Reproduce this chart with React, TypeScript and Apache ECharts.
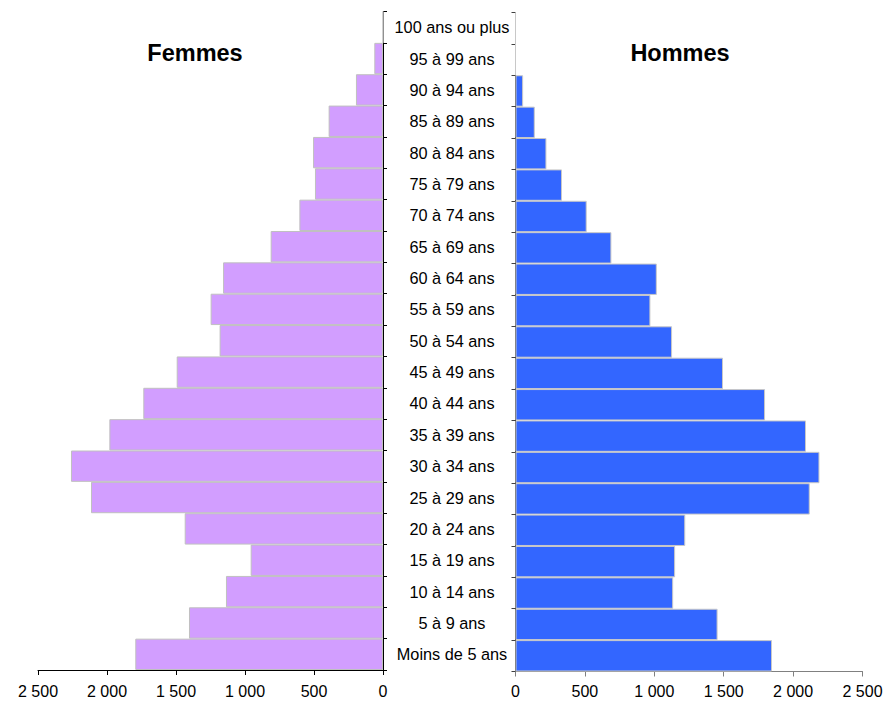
import React, { useEffect, useRef } from "react";
import * as echarts from "echarts";

const ageGroups = [
  "Moins de 5 ans", "5 à 9 ans", "10 à 14 ans", "15 à 19 ans", "20 à 24 ans",
  "25 à 29 ans", "30 à 34 ans", "35 à 39 ans", "40 à 44 ans", "45 à 49 ans",
  "50 à 54 ans", "55 à 59 ans", "60 à 64 ans", "65 à 69 ans", "70 à 74 ans",
  "75 à 79 ans", "80 à 84 ans", "85 à 89 ans", "90 à 94 ans", "95 à 99 ans",
  "100 ans ou plus",
];

const femmes = [
  1795, 1406, 1138, 959, 1437, 2116, 2261, 1983, 1737, 1495,
  1184, 1249, 1159, 814, 606, 493, 507, 394, 196, 63, 0,
];

const hommes = [
  1848, 1456, 1136, 1150, 1223, 2120, 2190, 2093, 1798, 1495,
  1128, 972, 1018, 691, 513, 335, 223, 139, 55, 0, 0,
];

const xTicks = { min: 0, max: 2500, interval: 500 };

const FONT = "'Liberation Sans', Arial, sans-serif";

const fmt = (v: number) => String(v).replace(/\B(?=(\d{3})+(?!\d))/g, " ");

export default function App() {
  const ref = useRef<HTMLDivElement>(null);
  useEffect(() => {
    document.body.style.margin = "0";
    const chart = echarts.init(ref.current!, null, { renderer: "svg" });
    chart.setOption({
      animation: false,
      backgroundColor: "#ffffff",
      textStyle: { fontFamily: FONT },
      graphic: [
        {
          type: "text",
          x: 195,
          y: 53,
          style: {
            text: "Femmes",
            fontFamily: FONT,
            fontSize: 23.5,
            fontWeight: "bold",
            fill: "#000",
            align: "center",
            verticalAlign: "middle",
          },
        },
        {
          type: "text",
          x: 680,
          y: 53,
          style: {
            text: "Hommes",
            fontFamily: FONT,
            fontSize: 23.5,
            fontWeight: "bold",
            fill: "#000",
            align: "center",
            verticalAlign: "middle",
          },
        },
      ],
      grid: [
        { left: 38, right: 886 - 383, top: 11.5, bottom: 31, containLabel: false },
        { left: 515.5, right: 886 - 862.5, top: 12.5, bottom: 29.5, containLabel: false },
      ],
      xAxis: [
        {
          type: "value",
          gridIndex: 0,
          inverse: true,
          min: xTicks.min,
          max: xTicks.max,
          interval: xTicks.interval,
          splitLine: { show: false },
          axisLine: { show: true, lineStyle: { color: "#000", width: 1 } },
          axisTick: { show: true, length: 5, lineStyle: { color: "#000" } },
          axisLabel: {
            formatter: fmt,
            fontSize: 16,
            color: "#000",
            fontFamily: FONT,
            margin: 13,
          },
        },
        {
          type: "value",
          gridIndex: 1,
          min: xTicks.min,
          max: xTicks.max,
          interval: xTicks.interval,
          splitLine: { show: false },
          axisLine: { show: true, lineStyle: { color: "#808080", width: 1 } },
          axisTick: { show: true, length: 5, lineStyle: { color: "#808080" } },
          axisLabel: {
            formatter: fmt,
            fontSize: 16,
            color: "#000",
            fontFamily: FONT,
            margin: 12,
          },
        },
      ],
      yAxis: [
        {
          type: "category",
          gridIndex: 0,
          position: "right",
          data: ageGroups,
          axisLine: { show: true, lineStyle: { color: "#000", width: 1 } },
          axisTick: { show: true, length: 4, lineStyle: { color: "#000" } },
          axisLabel: {
            show: true,
            align: "center",
            margin: 69,
            fontSize: 16.3,
            color: "#000",
            fontFamily: FONT,
            interval: 0,
          },
        },
        {
          type: "category",
          gridIndex: 1,
          position: "left",
          data: ageGroups,
          axisLine: { show: true, lineStyle: { color: "#404040", width: 1 } },
          axisTick: { show: true, length: 4, lineStyle: { color: "#404040" } },
          axisLabel: { show: false },
        },
      ],
      series: [
        {
          name: "Femmes",
          type: "bar",
          xAxisIndex: 0,
          yAxisIndex: 0,
          data: femmes,
          barCategoryGap: 0,
          itemStyle: { color: "#D29EFF", borderColor: "#C0C0C0", borderWidth: 1 },
        },
        {
          name: "Hommes",
          type: "bar",
          xAxisIndex: 1,
          yAxisIndex: 1,
          data: hommes,
          barCategoryGap: 0,
          itemStyle: { color: "#3366FF", borderColor: "#C8C8C8", borderWidth: 1 },
        },
      ],
    });
    return () => chart.dispose();
  }, []);
  return <div ref={ref} style={{ width: 886, height: 701 }} />;
}
